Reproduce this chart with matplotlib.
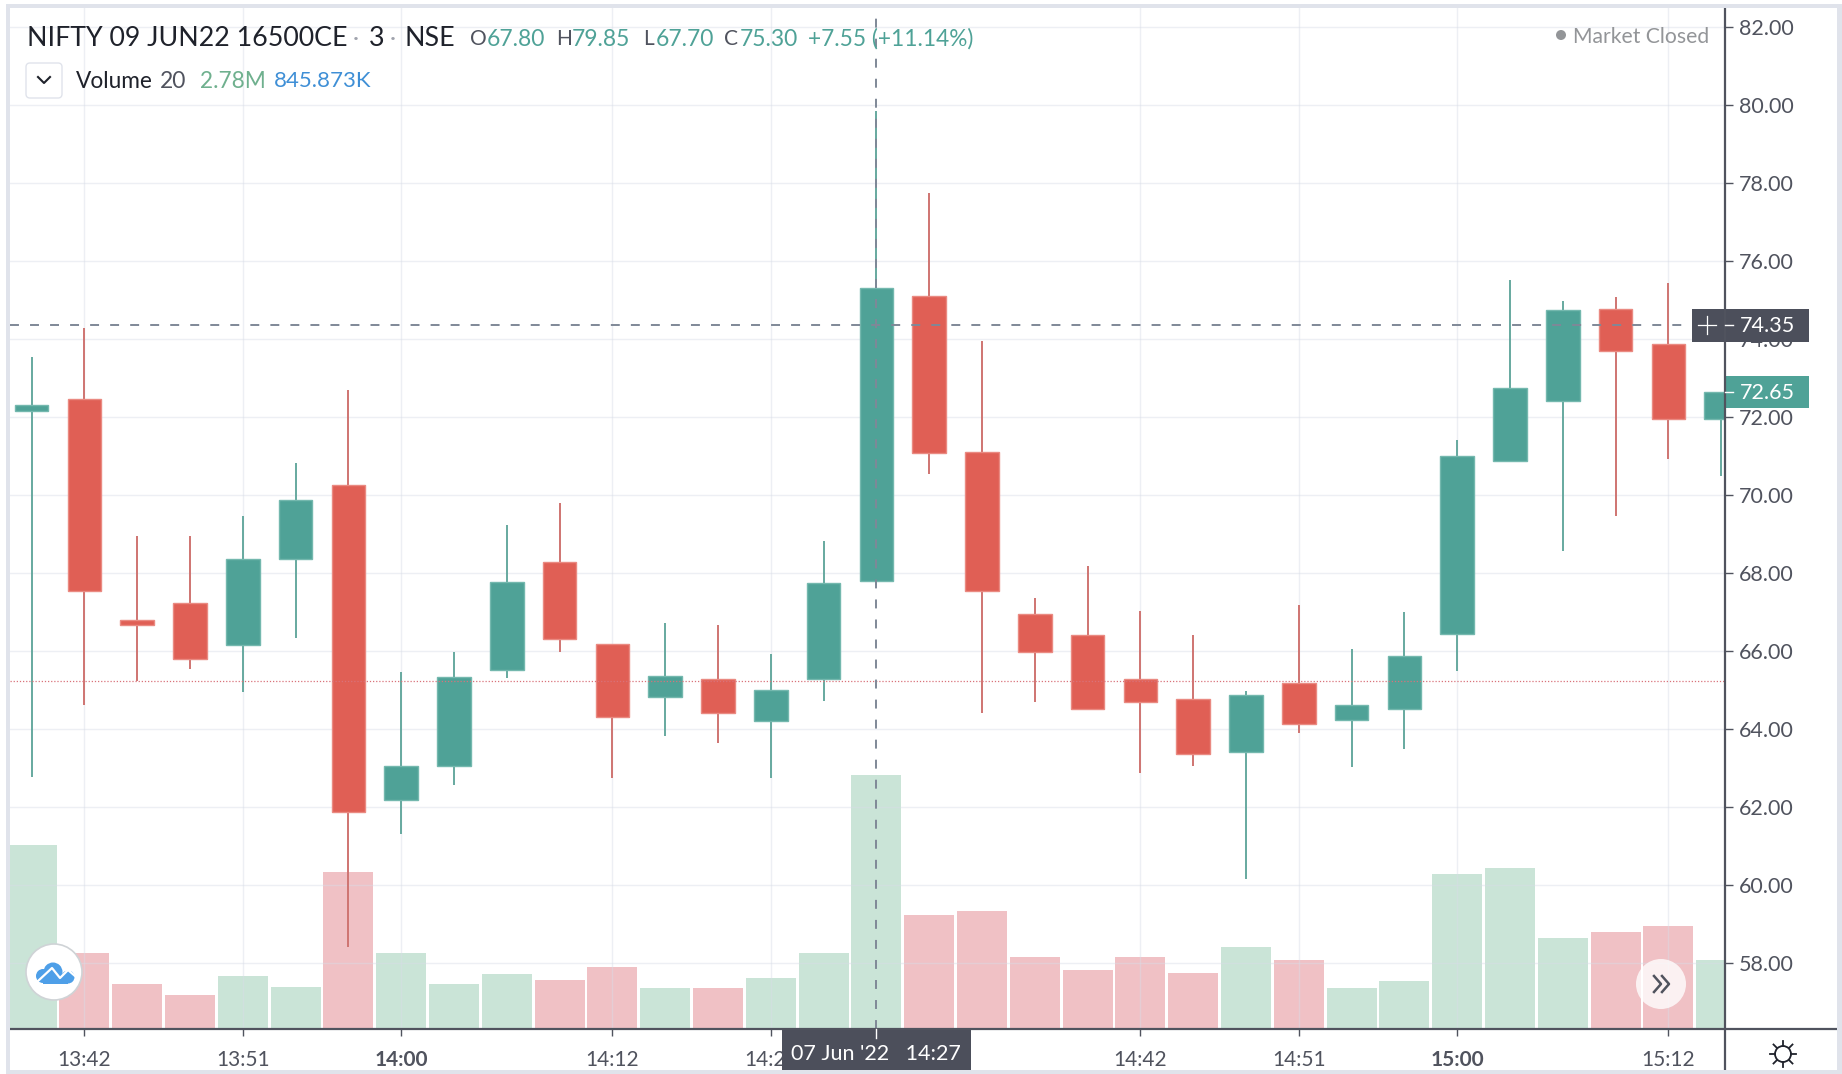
import matplotlib
matplotlib.use("Agg")
import matplotlib.pyplot as plt
from matplotlib.patches import Rectangle, Circle, FancyBboxPatch

# candle data (3 minute bars)
opens = [72.15, 72.45, 66.79, 67.24, 66.16, 68.36, 70.25, 62.18, 63.05, 65.52, 68.27,
         66.19, 64.83, 65.28, 64.20, 65.28, 67.80, 75.10, 71.10, 66.94, 66.40, 65.28,
         64.77, 63.42, 65.19, 64.23, 64.50, 66.43, 70.86, 72.42, 74.77, 73.87, 71.94]
highs = [73.54, 74.29, 68.96, 68.96, 69.47, 70.83, 72.69, 65.46, 65.98, 69.23, 69.80,
         66.19, 66.73, 66.67, 65.92, 68.81, 79.85, 77.75, 73.96, 67.36, 68.17, 67.03,
         66.40, 64.98, 67.18, 66.04, 67.00, 71.40, 75.52, 74.98, 75.07, 75.43, 72.65]
lows = [62.78, 64.62, 65.22, 65.55, 64.95, 66.34, 58.42, 61.31, 62.57, 65.31, 65.98,
        62.75, 63.81, 63.63, 62.75, 64.71, 67.70, 70.55, 64.41, 64.68, 64.50, 62.87,
        63.05, 60.16, 63.90, 63.02, 63.48, 65.49, 70.86, 68.57, 69.47, 70.92, 70.49]
closes = [72.30, 67.54, 66.67, 65.80, 68.36, 69.86, 61.88, 63.05, 65.34, 67.78, 66.31,
          64.32, 65.37, 64.41, 65.01, 67.75, 75.30, 71.07, 67.54, 65.98, 64.50, 64.68,
          63.36, 64.86, 64.14, 64.62, 65.86, 71.00, 72.75, 74.74, 73.69, 71.94, 72.65]
volumes = [2.01, 0.83, 0.49, 0.37, 0.58, 0.46, 1.72, 0.83, 0.49, 0.60, 0.54, 0.68, 0.45,
           0.45, 0.56, 0.83, 2.78, 1.25, 1.29, 0.79, 0.65, 0.79, 0.61, 0.90, 0.76, 0.45,
           0.53, 1.70, 1.76, 1.00, 1.06, 1.13, 0.76]

price_ticks = [58, 60, 62, 64, 66, 68, 70, 72, 74, 76, 78, 80, 82]
time_pos = [1, 4, 7, 11, 14, 21, 24, 27, 31]
time_labels = ["13:42", "13:51", "14:00", "14:12", "14:21", "14:42", "14:51", "15:00", "15:12"]
bold_labels = ["14:00", "15:00"]
cross_pos = 16
cross_price = 74.35
last_price = 72.65
prev_close = 65.22

GREEN = "#4fa297"
RED = "#e05f55"
GREEN_EDGE = "#74b8ae"
RED_EDGE = "#ea8a82"
GREEN_WICK = "#66a99f"
RED_WICK = "#cf7471"
VOL_GREEN = "#cae4d7"
VOL_RED = "#f0c1c5"
DARK = "#50535e"
TAG = "#4c4f5b"
CROSS = "#7f8897"
FONT = "Lato"

W, H = 1842, 1074
L, R, T, B = 10, 1725, 7, 1029
X0, STEP = 31.6, 52.8

plt.rcParams["font.family"] = FONT
fig = plt.figure(figsize=(W / 100, H / 100), dpi=100, facecolor="white")
rect = [L / W, 1 - B / H, (R - L) / W, (B - T) / H]

# volume sits under the price panel, same x scale
ax_vol = fig.add_axes(rect, zorder=1)
ax = fig.add_axes(rect, zorder=2)
ax.patch.set_visible(False)

xmin, xmax = (L - X0) / STEP, (R - X0) / STEP
ymin, ymax = 82 - (B - 27) / 39.0, 82 + (27 - T) / 39.0
idx = list(range(len(opens)))

vol_colors = [VOL_GREEN if c >= o else VOL_RED for o, c in zip(opens, closes)]
ax_vol.bar(idx, volumes, width=0.95, color=vol_colors)
ax_vol.set_xlim(xmin, xmax)
ax_vol.set_ylim(0, 2.78 * (B - T) / 254)
ax_vol.axis("off")

# candles
colors = [GREEN if c >= o else RED for o, c in zip(opens, closes)]
edges = [GREEN_EDGE if c >= o else RED_EDGE for o, c in zip(opens, closes)]
wicks = [GREEN_WICK if c >= o else RED_WICK for o, c in zip(opens, closes)]
bottoms = [min(o, c) for o, c in zip(opens, closes)]
heights = [abs(o - c) for o, c in zip(opens, closes)]
ax.vlines(idx, lows, highs, colors=wicks, linewidth=1.4, zorder=3)
ax.bar(idx, heights, bottom=bottoms, width=0.64, color=colors, edgecolor=edges, linewidth=1.0, zorder=4)

ax.set_xlim(xmin, xmax)
ax.set_ylim(ymin, ymax)
ax.set_yticks(price_ticks)
ax.set_yticklabels([f"{p:.2f}" for p in price_ticks])
ax.set_xticks(time_pos)
ax.set_xticklabels(time_labels)
ax.yaxis.tick_right()
ax.tick_params(axis="y", length=6, width=1, color=DARK, labelcolor=DARK, labelsize=15.5, pad=4)
ax.tick_params(axis="x", length=5, width=1, color=DARK, labelcolor=DARK, labelsize=15, pad=10)
for lab in ax.get_xticklabels():
    if lab.get_text() in bold_labels:
        lab.set_fontweight("bold")
ax.grid(color="#d8dce8", alpha=0.45, linewidth=1, zorder=1)
ax.set_axisbelow(True)
for side in ["top", "left", "right", "bottom"]:
    ax.spines[side].set_visible(False)

ax.axhline(prev_close, color="#d9727a", linewidth=0.9, linestyle=(0, (1, 1.5)), zorder=5)
ax.axvline(cross_pos, color=CROSS, linewidth=1.4, linestyle=(0, (4.6, 5.7)), zorder=6)
ax.axhline(cross_price, color=CROSS, linewidth=1.4, linestyle=(0, (4.6, 5.7)), zorder=6)

# overlay in pixel coordinates for the chart chrome
ov = fig.add_axes([0, 0, 1, 1], zorder=5)
ov.set_xlim(0, W)
ov.set_ylim(H, 0)
ov.axis("off")


def price_y(p):
    return 27 + (82 - p) * 39.0


def pos_x(i):
    return X0 + STEP * i


def label(x, y, s, color=DARK, size=15, ha="left", **kw):
    ov.text(x, y, s, color=color, fontsize=size, ha=ha, va="center", **kw)


# frame
BORDER = "#e0e3eb"
ov.add_patch(Rectangle((6, 4), 1831, 3.5, color=BORDER, lw=0))
ov.add_patch(Rectangle((6, 4), 3.5, 1070, color=BORDER, lw=0))
ov.add_patch(Rectangle((1837, 4), 5, 1070, color=BORDER, lw=0))
ov.add_patch(Rectangle((6, 1070), 1836, 4, color=BORDER, lw=0))
ov.plot([R, R], [8, 1070], color=DARK, lw=1.6, solid_capstyle="butt")
ov.plot([10, 1837], [B, B], color=DARK, lw=1.6, solid_capstyle="butt")

# header
TXT = "#1f222b"
label(27, 39, "NIFTY 09 JUN22 16500CE", TXT, 19.3)
label(356, 39, "·", "#a0a3ad", 17, ha="center")
label(369, 39, "3", TXT, 19.3)
label(393, 39, "·", "#a0a3ad", 17, ha="center")
label(404, 39, "NSE", TXT, 19.3)
for x, s, clr, size in [(470, "O", DARK, 15), (487, "67.80", GREEN, 16.5), (556, "H", DARK, 15),
                        (572, "79.85", GREEN, 16.5), (643, "L", DARK, 15), (656, "67.70", GREEN, 16.5),
                        (724, "C", DARK, 15), (740, "75.30", GREEN, 16.5),
                        (808, "+7.55 (+11.14%)", GREEN, 16.3)]:
    label(x, 39, s, clr, size)
ov.add_patch(FancyBboxPatch((26, 63), 36, 35, boxstyle="round,pad=0,rounding_size=4", fc="white", ec="#e0e3eb", lw=1))
ov.plot([38, 44, 50], [77, 83, 77], color=TXT, lw=1.5)
label(76, 81, "Volume", TXT, 16.3)
label(160, 81, "20", DARK, 16.5)
label(200, 81, "2.78M", "#6fb08e", 16.3)
label(274, 81, "845.873K", "#3f8fd6", 16)
ov.add_patch(Circle((1561, 35), 5, color="#939598", lw=0))
label(1573, 37, "Market Closed", "#939598", 15.2)

# crosshair price tag
yc = price_y(cross_price)
ov.add_patch(Rectangle((1692, yc - 16.5), 117, 33, color=TAG, lw=0))
ov.plot([1698, 1716], [yc, yc], color="white", lw=0.9)
ov.plot([1707, 1707], [yc - 9, yc + 9], color="white", lw=0.9)
ov.plot([R, 1733], [yc, yc], color="white", lw=1)
label(1740, yc + 1, f"{cross_price:.2f}", "white", 15.5)

# last price tag
yl = price_y(last_price)
ov.add_patch(Rectangle((R + 1, yl - 16), 83, 32, color=GREEN, lw=0))
ov.plot([R, 1733], [yl, yl], color="white", lw=1)
label(1740, yl + 1, f"{last_price:.2f}", "white", 15.5)

# crosshair time tag
xc = pos_x(cross_pos)
ov.add_patch(Rectangle((782, B), 189, 41, color=TAG, lw=0))
ov.plot([xc, xc], [B, B + 9], color="white", lw=1)
label(xc, 1054, "07 Jun '22   14:27", "white", 15.5, ha="center")

# logo button
ov.add_patch(Circle((54, 972), 28, fc="white", ec="#cfd3d6", lw=1.2))
for cx, cy, r in [(43, 976, 7), (53, 972, 9.5), (68, 977, 6.5)]:
    ov.add_patch(Circle((cx, cy), r, color="#4e9fe8", lw=0))
ov.add_patch(Rectangle((43, 975), 25, 8.5, color="#4e9fe8", lw=0))
ov.plot([38, 52, 60, 68, 75], [981, 968, 978, 970, 976], color="white", lw=1.6)

# scroll button
ov.add_patch(Circle((1661, 984), 25, fc="white", ec="none", alpha=0.78))
ov.plot([1654, 1661, 1654], [976, 984, 992], color=DARK, lw=1.8)
ov.plot([1662, 1669, 1662], [976, 984, 992], color=DARK, lw=1.8)

# settings gear
ov.add_patch(Circle((1783, 1054), 8, fc="none", ec="#1f222b", lw=1.3))
for dx, dy in [(0, -13), (0, 13), (-13, 0), (13, 0), (-9.5, -9.5), (9.5, -9.5), (-9.5, 9.5), (9.5, 9.5)]:
    ov.plot([1783 + dx * 0.65, 1783 + dx], [1054 + dy * 0.65, 1054 + dy], color="#1f222b", lw=1.3)

fig.savefig("out.png", dpi=100)
